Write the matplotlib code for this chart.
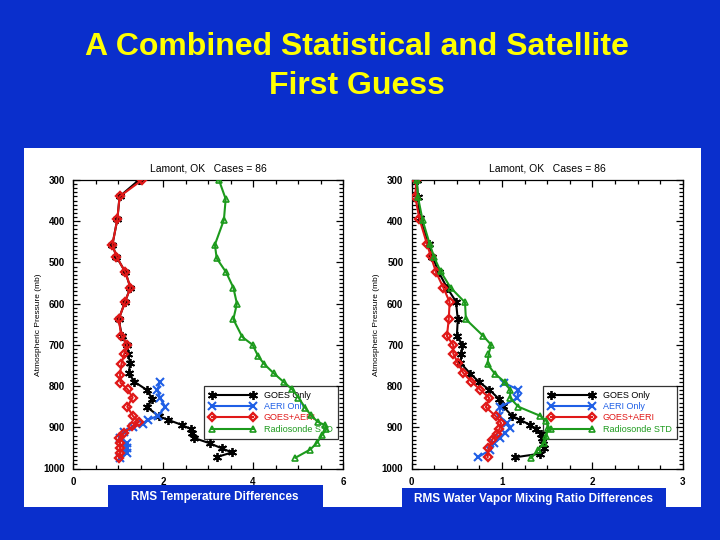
import matplotlib
matplotlib.use("Agg")
import matplotlib.pyplot as plt
from matplotlib.patches import Rectangle
from matplotlib.ticker import MultipleLocator

plt.rcParams['font.family'] = ['Liberation Sans', 'DejaVu Sans']

# ============================================================
#   DADOS
# ============================================================

# --- Temperatura ---
p_goes_t = [300, 340, 395, 457, 486, 524, 561, 596, 638, 678, 700, 721, 744, 768, 789,
            809, 831, 851, 873, 882, 894, 904, 914, 926, 939, 951, 961, 972]
goes_t = [1.46, 1.03, 0.98, 0.87, 0.96, 1.16, 1.27, 1.15, 1.01, 1.08, 1.19, 1.22, 1.26, 1.24, 1.35,
          1.63, 1.76, 1.64, 1.90, 2.11, 2.41, 2.61, 2.63, 2.69, 3.04, 3.30, 3.53, 3.20]

p_aeri_t = [789, 809, 829, 851, 872, 882, 891, 900, 912, 926, 939, 951, 963, 975]
aeri_t = [1.93, 1.87, 1.93, 2.05, 1.88, 1.67, 1.54, 1.33, 1.12, 1.03, 1.19, 1.20, 1.19, 1.04]

p_comb_t = [300, 340, 395, 457, 486, 524, 561, 596, 638, 678, 700, 723, 747, 772, 792,
            808, 828, 850, 873, 887, 898, 913, 926, 938, 950, 962, 974]
comb_t = [1.53, 1.03, 0.98, 0.87, 0.96, 1.16, 1.27, 1.15, 1.01, 1.07, 1.20, 1.13, 1.07, 1.04, 1.05,
          1.21, 1.32, 1.20, 1.33, 1.46, 1.31, 1.13, 1.02, 1.04, 1.05, 1.05, 1.02]

p_rao_t = [300, 346, 397, 457, 490, 524, 561, 600, 638, 681, 700, 727, 747, 769, 790,
           808, 828, 853, 871, 887, 895, 905, 919, 938, 954, 974]
rao_t = [3.24, 3.39, 3.35, 3.15, 3.19, 3.40, 3.56, 3.64, 3.56, 3.76, 3.99, 4.11, 4.25, 4.46, 4.68,
         4.87, 5.01, 5.16, 5.29, 5.44, 5.61, 5.63, 5.53, 5.42, 5.27, 4.94]

# --- Razao de mistura de vapor d'agua ---
p_goes_q = [300, 342, 392, 456, 486, 524, 561, 595, 638, 678, 700, 721, 744, 770, 791,
            809, 832, 849, 872, 882, 894, 905, 916, 926, 940, 951, 964, 973]
goes_q = [0.055, 0.07, 0.09, 0.19, 0.23, 0.30, 0.39, 0.49, 0.51, 0.50, 0.56, 0.55, 0.54, 0.65, 0.75,
          0.86, 0.97, 1.01, 1.11, 1.20, 1.31, 1.38, 1.43, 1.44, 1.45, 1.46, 1.42, 1.14]

p_aeri_q = [792, 809, 829, 851, 872, 890, 902, 914, 926, 939, 955, 973]
aeri_q = [1.02, 1.18, 1.17, 0.98, 0.97, 1.05, 1.09, 1.03, 0.98, 0.91, 0.87, 0.73]

p_comb_q = [300, 342, 394, 456, 484, 524, 561, 596, 638, 679, 700, 721, 744, 768, 789,
            809, 829, 851, 873, 890, 905, 916, 930, 951, 973]
comb_q = [0.05, 0.04, 0.085, 0.17, 0.21, 0.27, 0.35, 0.42, 0.41, 0.39, 0.46, 0.46, 0.51, 0.57, 0.66,
          0.76, 0.86, 0.82, 0.93, 0.99, 0.97, 0.94, 0.89, 0.85, 0.84]

p_rao_q = [300, 342, 397, 456, 488, 522, 561, 597, 638, 678, 700, 723, 747, 770, 790,
           810, 829, 850, 872, 884, 902, 920, 937, 955, 975]
rao_q = [0.055, 0.07, 0.12, 0.20, 0.25, 0.32, 0.43, 0.59, 0.60, 0.79, 0.88, 0.85, 0.84, 0.92, 1.03,
         1.09, 1.09, 1.18, 1.42, 1.49, 1.51, 1.49, 1.47, 1.40, 1.32]

nomes = ["GOES Only", "AERI Only", "GOES+AERI", "Radiosonde STD"]
cores = ["black", "#1f5fe6", "#e01818", "#1c9a1c"]

AZUL = "#0a2fcc"

# ============================================================
#   FUNCAO DE PAINEL
# ============================================================

def desenhar_painel(ax, series, xmax, xmaj, xmin):
    marcadores = [dict(marker=(6, 2, 0), ms=6.5, mew=1.3),
                  dict(marker="x", ms=5.5, mew=1.5),
                  dict(marker="D", ms=4, mew=1.7, mfc="none"),
                  dict(marker="^", ms=5, mew=1.2, mfc="none")]
    ordem = [3, 0, 1, 2]
    linhas = {}
    for i in ordem:
        p, v = series[i]
        ln, = ax.plot(v, p, color=cores[i], lw=1.5, mec=cores[i], zorder=3 + i,
                      label=nomes[i], **marcadores[i])
        linhas[i] = ln
    ax.set_xlim(0, xmax)
    ax.set_ylim(1000, 300)
    ax.xaxis.set_major_locator(MultipleLocator(xmaj))
    ax.xaxis.set_minor_locator(MultipleLocator(xmin))
    ax.yaxis.set_major_locator(MultipleLocator(100))
    ax.yaxis.set_minor_locator(MultipleLocator(10))
    ax.tick_params(which="both", direction="in", top=True, right=True,
                   labelsize=7, width=0.9, pad=6)
    ax.tick_params(which="major", length=5)
    ax.tick_params(which="minor", length=3)
    for lb in ax.get_xticklabels() + ax.get_yticklabels():
        lb.set_fontweight("bold")
    for s in ax.spines.values():
        s.set_linewidth(0.9)
    ax.set_title("Lamont, OK   Cases = 86", fontsize=7.5, pad=6)
    ax.set_ylabel("Atmospheric Pressure (mb)", fontsize=6, labelpad=1)

    leg = ax.legend([linhas[i] for i in range(4)], nomes, loc="upper left",
                    bbox_to_anchor=(0.484, 0.286), numpoints=2, handlelength=5.2,
                    fontsize=6.5, frameon=True, fancybox=False, borderpad=0.55,
                    labelspacing=0.25, handletextpad=0.9, borderaxespad=0)
    leg.get_frame().set_edgecolor("black")
    leg.get_frame().set_facecolor("none")
    leg.get_frame().set_linewidth(0.9)
    leg.set_zorder(2)
    for t, c in zip(leg.get_texts(), cores):
        t.set_color(c)


fig = plt.figure(figsize=(7.2, 5.4), dpi=100)
fig.patch.set_facecolor(AZUL)

# painel branco (atras dos eixos)
fig.patches.append(Rectangle((24 / 720, 1 - 507 / 540), 677 / 720, 359 / 540,
                             transform=fig.transFigure, facecolor="white",
                             edgecolor="none", zorder=-5))

fig.text(0.496, 1 - 47 / 540, "A Combined Statistical and Satellite", color="#ffff00",
         fontsize=23, fontweight="bold", ha="center", va="center")
fig.text(0.496, 1 - 86 / 540, "First Guess", color="#ffff00",
         fontsize=23, fontweight="bold", ha="center", va="center")

ax1 = fig.add_axes([73.3 / 720, 1 - 468.5 / 540, 269.7 / 720, 288.5 / 540])
ax2 = fig.add_axes([411.7 / 720, 1 - 468.5 / 540, 271 / 720, 288.5 / 540])
for ax in (ax1, ax2):
    ax.set_facecolor("none")

desenhar_painel(ax1, [(p_goes_t, goes_t), (p_aeri_t, aeri_t), (p_comb_t, comb_t), (p_rao_t, rao_t)],
                6, 2, 0.5)
desenhar_painel(ax2, [(p_goes_q, goes_q), (p_aeri_q, aeri_q), (p_comb_q, comb_q), (p_rao_q, rao_q)],
                3, 1, 0.25)

# caixas azuis com os rotulos
fig.patches.append(Rectangle((108 / 720, 1 - 507 / 540), 215 / 720, 22 / 540,
                             transform=fig.transFigure, facecolor=AZUL, edgecolor="none", zorder=1))
fig.patches.append(Rectangle((402 / 720, 1 - 507 / 540), 264 / 720, 19 / 540,
                             transform=fig.transFigure, facecolor=AZUL, edgecolor="none", zorder=1))
fig.text(215 / 720, 1 - 497 / 540, "RMS Temperature Differences", color="white",
         fontsize=8.5, fontweight="bold", ha="center", va="center")
fig.text(534 / 720, 1 - 499 / 540, "RMS Water Vapor Mixing Ratio Differences", color="white",
         fontsize=8.5, fontweight="bold", ha="center", va="center")

fig.savefig("out.png", dpi=100, facecolor=fig.get_facecolor())
